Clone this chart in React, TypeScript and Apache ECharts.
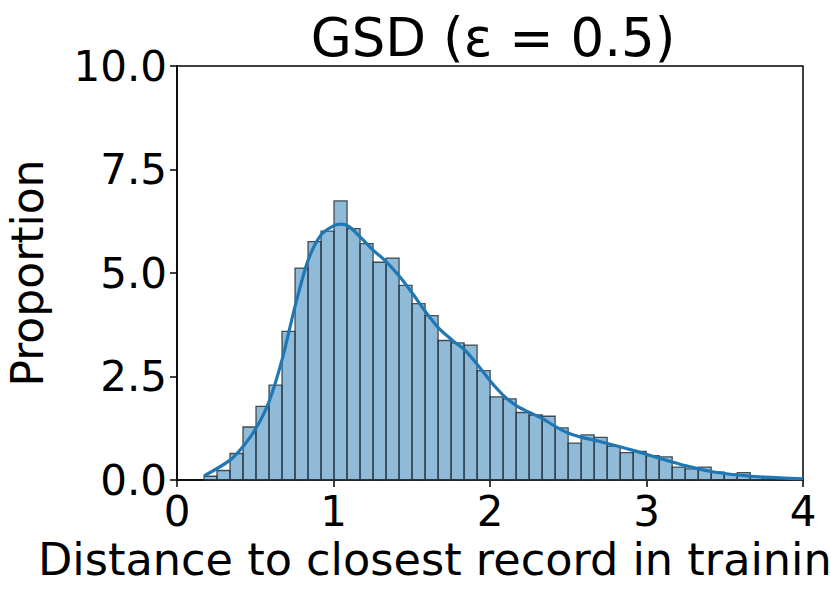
import React, { useEffect, useRef } from "react";
import * as echarts from "echarts";

const titleText = "GSD (ε = 0.5)";
const xAxisName = "Distance to closest record in trainin";
const yAxisName = "Proportion";

const binStart = 0.1725;
const binWidth = 0.0831;
const binHeights = [
  0.09, 0.23, 0.64, 1.28, 1.78, 2.29, 3.59, 5.12, 5.76, 6.01,
  6.74, 6.07, 5.71, 5.26, 5.36, 4.70, 4.26, 3.97, 3.37, 3.31,
  3.26, 2.64, 2.01, 1.96, 1.63, 1.57, 1.54, 1.26, 0.89, 1.09,
  1.03, 0.82, 0.66, 0.69, 0.59, 0.56, 0.31, 0.27, 0.31, 0.19,
  0.14, 0.18, 0.08, 0.07, 0.03, 0.02,
];

const kdeX = [
  0.173, 0.339, 0.422, 0.505, 0.588, 0.671, 0.754, 0.837, 0.92, 1.0,
  1.05, 1.1, 1.168, 1.251, 1.33, 1.421, 1.504, 1.587, 1.672, 1.755,
  1.838, 1.921, 2.004, 2.087, 2.17, 2.253, 2.336, 2.419, 2.504, 2.587,
  2.7, 2.92, 3.087, 3.253, 3.42, 3.586, 3.753, 4.0,
];
const kdeY = [
  0.1, 0.48, 0.81, 1.25, 1.89, 2.9, 4.19, 5.3, 5.92, 6.14,
  6.18, 6.12, 5.88, 5.56, 5.3, 4.92, 4.51, 4.07, 3.67, 3.39,
  3.14, 2.78, 2.38, 2.04, 1.79, 1.63, 1.48, 1.29, 1.13, 1.03,
  0.93, 0.71, 0.52, 0.34, 0.2, 0.12, 0.07, 0.03,
];

const xTicks = [0, 1, 2, 3, 4];
const yTicks = [0, 2.5, 5, 7.5, 10];

const FONT = "DejaVu Sans";

export default function App() {
  const ref = useRef<HTMLDivElement>(null);
  useEffect(() => {
    if (!ref.current) return;
    const chart = echarts.init(ref.current, null, { renderer: "svg" });
    const histData = binHeights.map((h, i) => [
      binStart + i * binWidth,
      binStart + (i + 1) * binWidth,
      h,
    ]);
    chart.setOption({
      animation: false,
      backgroundColor: "#ffffff",
      title: {
        text: titleText,
        left: 488,
        textAlign: "center",
        top: 6,
        textStyle: { fontFamily: FONT, fontSize: 53, fontWeight: "normal", color: "#000" },
      },
      grid: {
        left: 177,
        right: 28,
        top: 66,
        bottom: 122,
        show: true,
        borderColor: "#000",
        borderWidth: 1.5,
        backgroundColor: "transparent",
        outerBoundsMode: "none",
        containLabel: false,
      },
      graphic: [
        {
          type: "text",
          left: 38,
          top: 537,
          style: {
            text: xAxisName,
            fontFamily: FONT,
            fontSize: 44.6,
            fill: "#000",
          },
        },
      ],
      xAxis: {
        type: "value",
        min: xTicks[0],
        max: xTicks[xTicks.length - 1],
        interval: 1,
        axisLine: { show: true, onZero: false, lineStyle: { color: "#000", width: 1.5 } },
        axisTick: { show: true, length: 7, lineStyle: { color: "#000", width: 1.5 } },
        axisLabel: { fontFamily: FONT, fontSize: 42, color: "#000", margin: 10 },
        splitLine: { show: false },
      },
      yAxis: {
        type: "value",
        min: yTicks[0],
        max: yTicks[yTicks.length - 1],
        interval: 2.5,
        name: yAxisName,
        nameLocation: "middle",
        nameGap: 128,
        nameTextStyle: { fontFamily: FONT, fontSize: 44, color: "#000" },
        axisLine: { show: true, lineStyle: { color: "#000", width: 1.5 } },
        axisTick: { show: true, length: 7, lineStyle: { color: "#000", width: 1.5 } },
        axisLabel: {
          fontFamily: FONT,
          fontSize: 42,
          color: "#000",
          margin: 10,
          formatter: (v: number) => v.toFixed(1),
        },
        splitLine: { show: false },
      },
      series: [
        {
          type: "custom",
          data: histData,
          encode: { x: [0, 1], y: 2 },
          renderItem: (params: any, api: any) => {
            const x0 = api.value(0);
            const x1 = api.value(1);
            const h = api.value(2);
            const p0 = api.coord([x0, 0]);
            const p1 = api.coord([x1, h]);
            return {
              type: "rect",
              shape: { x: p0[0], y: p1[1], width: p1[0] - p0[0], height: p0[1] - p1[1] },
              style: {
                fill: "rgba(31,119,180,0.5)",
                stroke: "rgba(40,50,60,0.85)",
                lineWidth: 1.3,
              },
            };
          },
          z: 2,
        },
        {
          type: "line",
          data: kdeX.map((x, i) => [x, kdeY[i]]),
          smooth: 0.3,
          showSymbol: false,
          lineStyle: { color: "#1f77b4", width: 3.2 },
          z: 3,
        },
      ],
    });
    return () => chart.dispose();
  }, []);
  return (
    <div
      ref={ref}
      style={{ position: "fixed", left: 0, top: 0, width: 831, height: 602 }}
    />
  );
}
